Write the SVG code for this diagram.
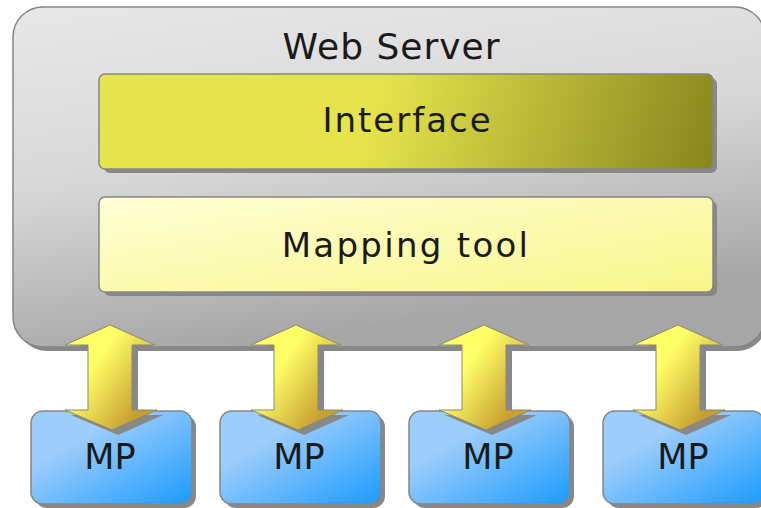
<svg xmlns="http://www.w3.org/2000/svg" width="761" height="508" viewBox="0 0 761 508">
<defs>
<linearGradient id="gWeb" x1="0" y1="0" x2="0.3" y2="1"><stop offset="0" stop-color="#e8e8e8"/><stop offset="0.5" stop-color="#d8d8d8"/><stop offset="1" stop-color="#a6a6a6"/></linearGradient>
<linearGradient id="gInt" gradientUnits="userSpaceOnUse" x1="380" y1="90" x2="713" y2="190"><stop offset="0" stop-color="#e6e44c"/><stop offset="1" stop-color="#85841c"/></linearGradient>
<linearGradient id="gMap" x1="0" y1="0" x2="1" y2="1"><stop offset="0" stop-color="#ffffd6"/><stop offset="1" stop-color="#f8f68a"/></linearGradient>
<linearGradient id="gMP" x1="0.3" y1="0.3" x2="1" y2="1"><stop offset="0" stop-color="#9dcdfb"/><stop offset="1" stop-color="#1a9bff"/></linearGradient>
<linearGradient id="gArr" x1="0.3" y1="0.4" x2="0.8" y2="0.8"><stop offset="0" stop-color="#ffff66"/><stop offset="1" stop-color="#c8a032"/></linearGradient>
<path id="arrow" d="M0,0 L45,20 L22,20 L22,85 L47,85 L2,105 L-45,85 L-22,85 L-22,20 L-45,20 Z"/>
</defs>
<style>
.shadow{fill:#888888}
.edge{stroke:#858585;stroke-width:1.5}
.lbl{font-family:"DejaVu Sans",sans-serif;fill:#1a1a1a;text-anchor:middle}
</style>
<rect width="761" height="508" fill="#ffffff"/>
<g id="web-server">
<rect class="shadow" x="17" y="11" width="750" height="340" rx="30"/>
<rect class="edge" x="13" y="7" width="752" height="340" rx="30" fill="url(#gWeb)"/>
<text class="lbl" x="391.5" y="59" font-size="36" letter-spacing="1">Web Server</text>
</g>
<g id="interface">
<rect class="shadow" x="104" y="78" width="613" height="95" rx="6"/>
<rect class="edge" x="99" y="74" width="614" height="95" rx="6" fill="url(#gInt)"/>
<text class="lbl" x="407.5" y="132" font-size="34" letter-spacing="2">Interface</text>
</g>
<g id="mapping-tool">
<rect class="shadow" x="104" y="201" width="613" height="95" rx="6"/>
<rect class="edge" x="99" y="197" width="614" height="95" rx="6" fill="url(#gMap)"/>
<text class="lbl" x="406" y="257" font-size="34" letter-spacing="2.3">Mapping tool</text>
</g>
<g id="mp1">
<rect class="shadow" x="35" y="415" width="161" height="93" rx="12"/>
<rect class="edge" x="31" y="411" width="161" height="93" rx="12" fill="url(#gMP)"/>
<text class="lbl" x="110" y="469" font-size="35">MP</text>
</g>
<g id="mp2">
<rect class="shadow" x="224" y="415" width="161" height="93" rx="12"/>
<rect class="edge" x="220" y="411" width="161" height="93" rx="12" fill="url(#gMP)"/>
<text class="lbl" x="299" y="469" font-size="35">MP</text>
</g>
<g id="mp3">
<rect class="shadow" x="413" y="415" width="161" height="93" rx="12"/>
<rect class="edge" x="409" y="411" width="161" height="93" rx="12" fill="url(#gMP)"/>
<text class="lbl" x="488" y="469" font-size="35">MP</text>
</g>
<g id="mp4">
<rect class="shadow" x="607" y="415" width="161" height="93" rx="12"/>
<rect class="edge" x="603" y="411" width="161" height="93" rx="12" fill="url(#gMP)"/>
<text class="lbl" x="683" y="469" font-size="35">MP</text>
</g>
<g id="connectors">
<use href="#arrow" x="116" y="330" class="shadow"/>
<use href="#arrow" x="110" y="325" fill="url(#gArr)" stroke="#8a8a6a" stroke-width="1"/>
<use href="#arrow" x="302" y="330" class="shadow"/>
<use href="#arrow" x="296" y="325" fill="url(#gArr)" stroke="#8a8a6a" stroke-width="1"/>
<use href="#arrow" x="490" y="330" class="shadow"/>
<use href="#arrow" x="484" y="325" fill="url(#gArr)" stroke="#8a8a6a" stroke-width="1"/>
<use href="#arrow" x="684" y="330" class="shadow"/>
<use href="#arrow" x="678" y="325" fill="url(#gArr)" stroke="#8a8a6a" stroke-width="1"/>
</g>
</svg>
